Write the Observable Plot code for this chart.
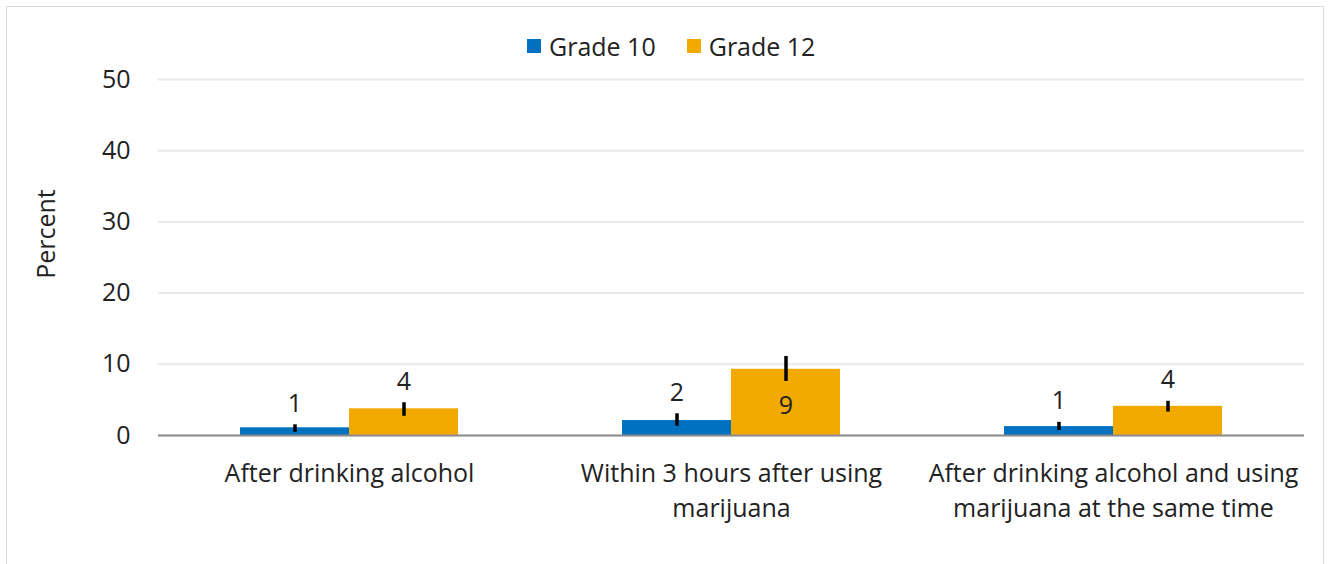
<!DOCTYPE html>
<html><head><meta charset="utf-8">
<script src="https://cdn.jsdelivr.net/npm/d3@7"></script>
<script src="https://cdn.jsdelivr.net/npm/@observablehq/plot@0.6"></script>
<style>
html,body{margin:0;padding:0;background:#fff;overflow:hidden;width:1329px;height:564px;}
body{font-family:"Open Sans",sans-serif;color:#222;position:relative;}
#frame{position:absolute;left:6px;top:6px;width:1318px;height:620px;border:1px solid #d9d9d9;box-sizing:border-box;}
#chart{position:absolute;left:0;top:0;}
#legend{position:absolute;top:29px;left:527px;display:flex;align-items:center;font-size:25px;line-height:34px;white-space:nowrap;}
#legend .sw{width:14px;height:14px;display:inline-block;margin-right:8px;}
#legend .item{display:flex;align-items:center;margin-right:31px;}
#ylabel{position:absolute;left:45px;top:234px;transform:translate(-50%,-50%) rotate(-90deg);font-size:25px;white-space:nowrap;}
</style>
</head><body>
<div id="frame"></div>
<div id="chart"></div>
<div id="legend"></div>
<div id="ylabel">Percent</div>
<script>
const categories = ["After drinking alcohol", "Within 3 hours after using\nmarijuana", "After drinking alcohol and using\nmarijuana at the same time"];
const grades = ["Grade 10", "Grade 12"];
const colors = ["#0070C0", "#F2A900"];
const grade10 = [1.08, 2.1, 1.25];
const grade12 = [3.75, 9.3, 4.1];
const grade10Low = [0.45, 1.3, 0.7];
const grade10High = [1.5, 3.05, 1.85];
const grade12Low = [2.7, 7.6, 3.3];
const grade12High = [4.6, 11.1, 4.8];
const yTicks = [0, 10, 20, 30, 40, 50];

const data = [];
categories.forEach((c, i) => {
  data.push({category: c, grade: grades[0], value: grade10[i], low: grade10Low[i], high: grade10High[i]});
  data.push({category: c, grade: grades[1], value: grade12[i], low: grade12Low[i], high: grade12High[i]});
});
const fmt = d3.format(".0f");
const inside = d => d.high > 10;

const chart = Plot.plot({
  width: 1329, height: 564,
  marginLeft: 158, marginRight: 25, marginTop: 79, marginBottom: 129,
  style: {fontFamily: "Open Sans", fontSize: "25px", color: "#222", background: "transparent", overflow: "visible"},
  fx: {domain: categories, padding: 0, label: null},
  x: {domain: grades, paddingInner: 0, paddingOuter: 0.75, axis: null},
  y: {domain: [0, 50], axis: null},
  color: {domain: grades, range: colors},
  marks: [
    Plot.gridY(yTicks, {stroke: "#e8e8e8", strokeOpacity: 1, strokeWidth: 2}),
    Plot.axisY(yTicks, {tickSize: 0, tickPadding: 28, label: null, fontSize: 25}),
    Plot.axisFx({anchor: "bottom", tickSize: 0, tickPadding: 22, label: null, fontSize: 25, lineHeight: 1.4}),
    Plot.barY(data, {fx: "category", x: "grade", y: "value", fill: "grade"}),
    Plot.ruleY([0], {stroke: "#8c8c8c", strokeWidth: 2}),
    Plot.ruleX(data, {fx: "category", x: "grade", y1: "low", y2: "high", stroke: "#000", strokeWidth: 3.5}),
    Plot.text(data.filter(d => !inside(d)), {fx: "category", x: "grade", y: "high", dy: -21, text: d => fmt(d.value), fontSize: 25, fill: "#222"}),
    Plot.text(data.filter(inside), {fx: "category", x: "grade", y: d => d.value / 2, dy: 4, text: d => fmt(d.value), fontSize: 25, fill: "#222"})
  ]
});
document.getElementById("chart").appendChild(chart);

const legend = document.getElementById("legend");
grades.forEach((g, i) => {
  const item = document.createElement("div");
  item.className = "item";
  const sw = document.createElement("span");
  sw.className = "sw";
  sw.style.background = colors[i];
  item.appendChild(sw);
  item.appendChild(document.createTextNode(g));
  legend.appendChild(item);
});
</script>
</body></html>
